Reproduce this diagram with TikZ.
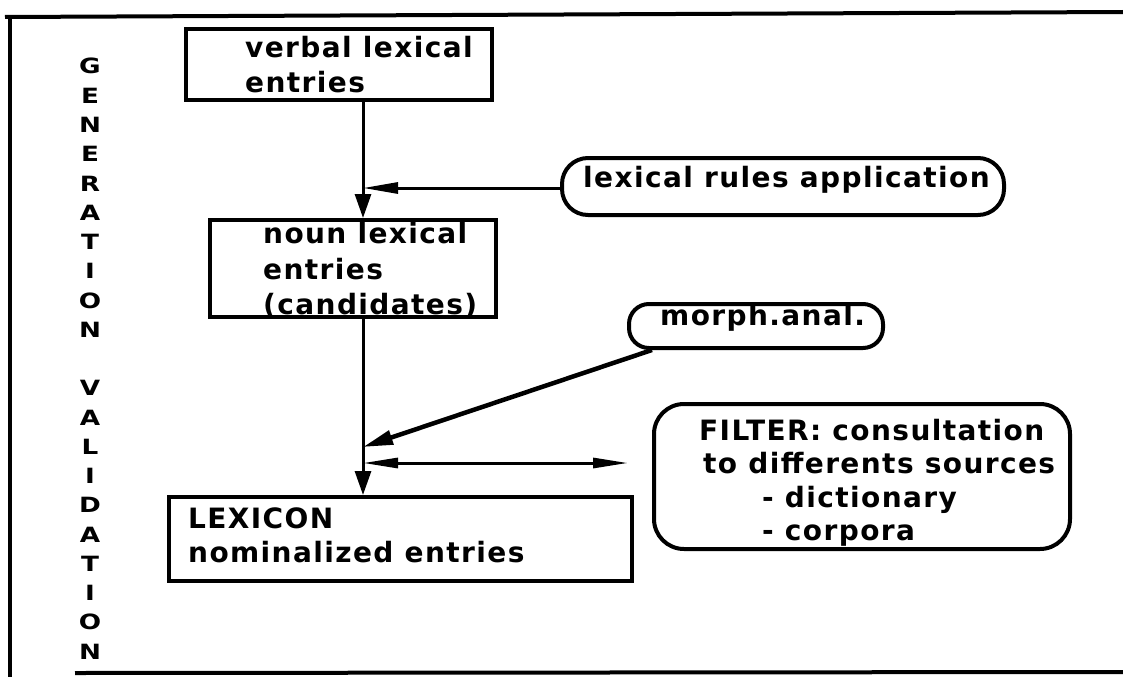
\documentclass[tikz,border=0pt]{standalone}
\usepackage{fontspec}
\setmainfont{DejaVu Sans}
\newfontfamily\dfont[LetterSpace=5]{DejaVu Sans}
\newfontfamily\vfont{DejaVu Sans}
\usetikzlibrary{arrows.meta,calc}
\begin{document}
\begin{tikzpicture}[x=1pt,y=-1pt,
  frameline/.style={line width=4pt},
  box/.style={draw,line width=4pt,inner sep=0pt,anchor=north west},
  rbox/.style={box,rounded corners=#1},
  txt/.style={inner sep=0pt,anchor=base west,font=\dfont\bfseries\fontsize{28}{30}\selectfont},
  vlet/.style={inner sep=0pt,anchor=base,font=\vfont\bfseries\fontsize{21}{22}\selectfont,xscale=1.25},
  conn/.style={line width=3pt},
  downtip/.style={-{Triangle[length=24pt,width=16pt]}},
  sidetip/.style={-{Triangle[length=35pt,width=11pt]}},
  dbltip/.style={{Triangle[length=35pt,width=10pt]}-{Triangle[length=35pt,width=10pt]}}
]
\useasboundingbox (0,0) rectangle (1123,677);
% frame
\draw[frameline] (5,17) -- (1123,12);
\draw[frameline] (10,16) -- (10,677);
\draw[frameline] (75,673) -- (1123,672);
% vertical title
\foreach \l [count=\i from 0] in {G,E,N,E,R,A,T,I,O,N}
  \node[vlet] (ga\i) at (90,{74+\i*29.25}) {\l};
\foreach \l [count=\i from 11] in {V,A,L,I,D,A,T,I,O,N}
  \node[vlet] (va\i) at (90,{74+\i*29.25}) {\l};
% boxes
\node[box,minimum width=306pt,minimum height=71pt] (verbal) at (184,27) {};
\node[txt] (verbal1) at (245,58) {verbal lexical};
\node[txt] (verbal2) at (245,92) {entries};
\node[box,minimum width=286pt,minimum height=97pt] (noun) at (208,218) {};
\node[txt] (noun1) at (263,243) {noun lexical};
\node[txt] (noun2) at (263,279) {entries};
\node[txt] (noun3) at (263,314) {(candidates)};
\node[box,minimum width=463pt,minimum height=84pt] (lexicon) at (167,495) {};
\node[txt] (lex1) at (188,528) {LEXICON};
\node[txt] (lex2) at (188,562) {nominalized entries};
\node[rbox=26pt,minimum width=442pt,minimum height=57pt] (rules) at (560,156) {};
\node[txt] (rules1) at (583,187) {lexical rules application};
\node[rbox=20pt,minimum width=254pt,minimum height=44pt] (morph) at (627,302) {};
\node[txt] (morph1) at (660,325) {morph.anal.};
\node[rbox=30pt,minimum width=416pt,minimum height=145pt] (filter) at (652,402) {};
\node[txt] (filt1) at (699,440) {FILTER: consultation};
\node[txt] (filt2) at (703,473) {to differents sources};
\node[txt] (filt3) at (762,507) {- dictionary};
\node[txt] (filt4) at (762,540) {- corpora};
% connectors
\coordinate (j1) at (363,188);
\coordinate (j2) at (363,447);
\coordinate (j3) at (363,463);
\coordinate (fend) at (628,463);
\draw[conn,downtip] (verbal.south -| j1) -- (noun.north -| j1);
\draw[conn,sidetip] (rules.west |- j1) -- (j1);
\draw[conn,downtip] (noun.south -| j1) -- (lexicon.north -| j1);
\draw[line width=4.5pt,-{Triangle[length=30pt,width=14pt]}] ($(morph.south west)+(25,0)$) -- (j2);
\draw[conn,dbltip] (j3) -- (fend);
\end{tikzpicture}
\end{document}
